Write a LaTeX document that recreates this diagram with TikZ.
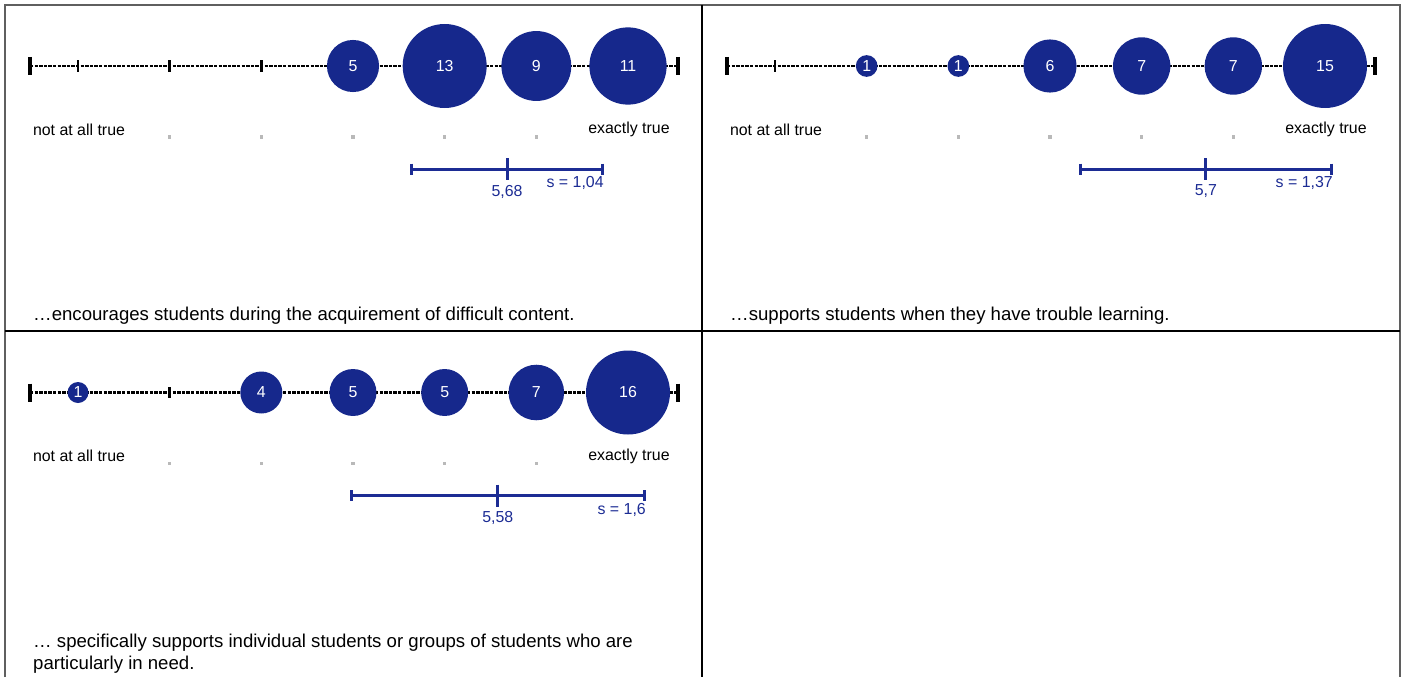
\documentclass[tikz,border=0pt]{standalone}
\usepackage{fontspec}
\setmainfont{Liberation Sans}
\definecolor{bubblefill}{RGB}{22,40,140}
\definecolor{meanblue}{RGB}{28,44,148}
\definecolor{dotgray}{RGB}{185,185,185}
\definecolor{framegray}{RGB}{95,95,95}

% One rating panel: 7-point scale with bubbles, scale labels, mean and spread bar
% #1 name prefix, #2 x offset, #3 y offset, #4 counts, #5 largest count,
% #6 mean, #7 standard deviation, #8 mean text, #9 deviation text
\newcommand{\likertpanel}[9]{%
  \begin{scope}[shift={(#2,#3)}, name prefix=#1-]
    \coordinate (axL) at (30,66);
    \coordinate (axR) at (678,66);
    \draw[axisline] (axL) -- (axR);
    \draw[endtick] ([yshift=9pt]axL) -- ([yshift=-9pt]axL);
    \draw[endtick] ([yshift=9pt]axR) -- ([yshift=-9pt]axR);
    \foreach \n [count=\i] in {#4} {
      \pgfmathsetmacro\px{78+(\i-1)*91.667}
      \coordinate (pt\i) at (\px,66);
      \draw[scaletick] ([yshift=5.5pt]pt\i) -- ([yshift=-5.5pt]pt\i);
      \ifnum\i>1 \ifnum\i<7 \node[gdot] (dot\i) at (\px,137) {}; \fi\fi
    }
    \foreach \n [count=\i] in {#4} {
      \ifnum\n>0
        \pgfmathsetmacro\bubdiam{84*sqrt(\n/#5)}
        \node[bubble=\bubdiam pt] (c\i) at (pt\i) {\n};
      \fi
    }
    \node[scalelabel] (lo) at (79,129.5) {not at all true};
    \node[scalelabel] (hi) at (629,129.5) {exactly true};
    \pgfmathsetmacro\mx{78+(#6-1)*91.667}
    \pgfmathsetmacro\sx{#7*91.667}
    \coordinate (mL) at (\mx-\sx,169);
    \coordinate (mM) at (\mx,169);
    \coordinate (mR) at (\mx+\sx,169);
    \draw[meanbar] (mL) -- (mR);
    \draw[meanbar] ([yshift=5.5pt]mL) -- ([yshift=-5.5pt]mL);
    \draw[meanbar] ([yshift=5.5pt]mR) -- ([yshift=-5.5pt]mR);
    \draw[meanbar] ([yshift=11pt]mM) -- ([yshift=-11pt]mM);
    \node[meanlabel] (mtext) at (\mx,191.5) {#8};
    \node[meanlabel, anchor=east] (stext) at (\mx+\sx+1.5,183) {s = #9};
  \end{scope}%
}

\begin{document}
\begin{tikzpicture}[x=1pt, y=-1pt,
    every node/.style={font=\fontsize{15.9pt}{22pt}\selectfont},
    axisline/.style={line width=2.6pt, dash pattern=on 3.3pt off 1.3pt},
    endtick/.style={line width=3.2pt},
    scaletick/.style={line width=2.4pt},
    gdot/.style={rectangle, fill=dotgray, inner sep=0pt, minimum size=3.5pt},
    bubble/.style={circle, fill=bubblefill, text=white, inner sep=0pt, minimum size=#1},
    scalelabel/.style={inner sep=0pt, text=black},
    meanbar/.style={draw=meanblue, line width=3pt},
    meanlabel/.style={inner sep=0pt, text=meanblue},
    caption/.style={inner sep=0pt, text=black, font=\fontsize{18.6pt}{22.5pt}\selectfont},
    framerule/.style={draw=framegray, line width=2pt},
    dividerrule/.style={draw=black, line width=2pt}
  ]
  \useasboundingbox (0,0) rectangle (1404,677);

  % frame and panel dividers
  \draw[framerule] (5,677) -- (5,5) -- (1400,5) -- (1400,677);
  \draw[dividerrule] (702,5) -- (702,677);
  \draw[dividerrule] (5,331) -- (1400,331);

  % panels
  \likertpanel{pa}{0}{0}{0,0,0,5,13,9,11}{13}{5.68}{1.04}{5,68}{1,04}
  \likertpanel{pb}{697}{0}{0,1,1,6,7,7,15}{15}{5.7}{1.37}{5,7}{1,37}
  \likertpanel{pc}{0}{326.5}{1,0,4,5,5,7,16}{16}{5.58}{1.6}{5,58}{1,6}

  % statements
  \node[caption, anchor=base west] (cap1) at (33,320.5)
    {…encourages students during the acquirement of difficult content.};
  \node[caption, anchor=base west] (cap2) at (730,320.5)
    {…supports students when they have trouble learning.};
  \node[caption, anchor=north west, align=left] (cap3) at (33,633.5)
    {… specifically supports individual students or groups of students who are\\particularly in need.};
\end{tikzpicture}
\end{document}
